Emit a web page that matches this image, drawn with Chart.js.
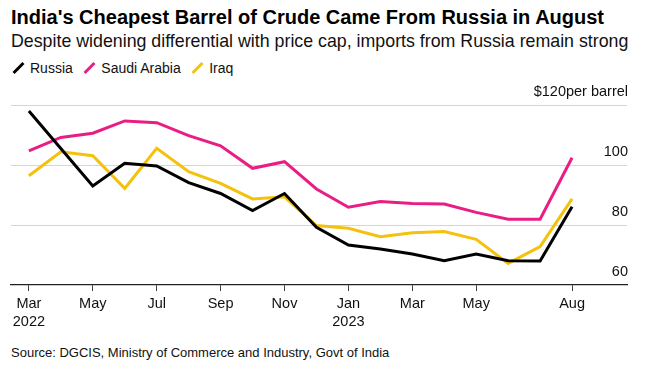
<html>

<head>
    <script src="https://cdn.jsdelivr.net/npm/chart.js"></script>
    <style>
        body {
            margin: 0;
            background: #fff;
        }

        #wrap {
            position: relative;
            width: 645px;
            height: 370px;
            overflow: hidden;
            font-family: 'Liberation Sans', Arial, sans-serif;
            color: #111;
        }

        .txt {
            position: absolute;
            left: 11px;
            white-space: nowrap;
        }

        #title {
            top: 7px;
            font-size: 20px;
            line-height: 20px;
            font-weight: bold;
            color: #000;
        }

        #subtitle {
            top: 33px;
            font-size: 17.8px;
            line-height: 17.8px;
        }

        #legend {
            position: absolute;
            left: 12px;
            top: 61px;
            height: 14px;
            display: flex;
            align-items: center;
            font-size: 14px;
            line-height: 14px;
        }

        .leg-item {
            display: flex;
            align-items: center;
            margin-right: 10.5px;
        }

        .leg-mark {
            position: relative;
            width: 12px;
            height: 12px;
            margin-right: 6px;
        }

        .leg-mark span {
            position: absolute;
            left: 4.5px;
            top: -1px;
            width: 3px;
            height: 14px;
            transform: rotate(45deg);
        }

        #source {
            top: 346px;
            font-size: 13px;
            line-height: 13px;
        }

        #chart-box {
            position: absolute;
            left: 0;
            top: 80px;
            width: 645px;
            height: 265px;
        }
    </style>
</head>

<body>
    <div id="wrap">
        <div id="title" class="txt">India's Cheapest Barrel of Crude Came From Russia in August</div>
        <div id="subtitle" class="txt">Despite widening differential with price cap, imports from Russia remain strong</div>
        <div id="legend"></div>
        <div id="chart-box"><canvas id="oil-chart"></canvas></div>
        <div id="source" class="txt">Source: DGCIS, Ministry of Commerce and Industry, Govt of India</div>
    </div>

    <script>
        // Mar 2022 .. Aug 2023, $ per barrel
        const months = ['2022-03', '2022-04', '2022-05', '2022-06', '2022-07', '2022-08', '2022-09', '2022-10', '2022-11',
            '2022-12', '2023-01', '2023-02', '2023-03', '2023-04', '2023-05', '2023-06', '2023-07', '2023-08'];
        const russia = [118, 105.5, 93, 100.6, 99.7, 94.1, 90.5, 84.8, 90.5, 79.2, 73.3, 72, 70.3, 68.1, 70.3, 68.1, 68, 86.1];
        const saudiArabia = [104.7, 109.2, 110.6, 114.7, 114.1, 109.8, 106.4, 98.9, 101.1, 92, 85.9, 87.8, 87.2, 87, 84.2, 81.9, 81.9, 102.4];
        const iraq = [96.4, 104.4, 103.1, 92.2, 105.6, 97.8, 93.9, 88.7, 89.4, 79.8, 78.9, 76.1, 77.4, 77.8, 75.2, 67.2, 72.8, 88.7];

        const seriesNames = ['Russia', 'Saudi Arabia', 'Iraq'];
        const seriesColors = ['#000000', '#e91e84', '#f4c20d'];

        const tickMonths = ['2022-03', '2022-05', '2022-07', '2022-09', '2022-11', '2023-01', '2023-03', '2023-05', '2023-08'];
        const tickLabels = [['Mar', '2022'], 'May', 'Jul', 'Sep', 'Nov', ['Jan', '2023'], 'Mar', 'May', 'Aug'];
        const yTicks = [60, 80, 100, 120];

        // legend
        const legend = document.getElementById('legend');
        seriesNames.forEach((name, i) => {
            const item = document.createElement('div');
            item.className = 'leg-item';
            item.innerHTML = '<div class="leg-mark"><span style="background:' + seriesColors[i] + '"></span></div><div>' + name + '</div>';
            legend.appendChild(item);
        });

        const allSeries = [russia, saudiArabia, iraq];
        const datasets = allSeries.map((values, i) => ({
            label: seriesNames[i],
            data: values.map((v, j) => ({ x: j, y: v })),
            borderColor: seriesColors[i],
            backgroundColor: seriesColors[i],
            borderWidth: 3,
            pointRadius: 0,
            tension: 0,
            fill: false
        }));

        Chart.defaults.font.family = "'Liberation Sans', Arial, sans-serif";
        Chart.defaults.color = '#111';

        const ctx = document.getElementById('oil-chart').getContext('2d');
        const chart = new Chart(ctx, {
            type: 'line',
            data: { datasets: datasets },
            options: {
                responsive: true,
                maintainAspectRatio: false,
                animation: false,
                layout: {
                    padding: { left: 11, right: 18, top: 25, bottom: 0 }
                },
                plugins: {
                    legend: { display: false },
                    tooltip: { enabled: false }
                },
                scales: {
                    x: {
                        type: 'linear',
                        min: -0.56,
                        max: 18.72,
                        afterBuildTicks: (scale) => {
                            scale.ticks = tickMonths.map(m => ({ value: months.indexOf(m) }));
                        },
                        afterFit: (scale) => { scale.height = 60; },
                        ticks: {
                            autoSkip: false,
                            maxRotation: 0,
                            padding: 4,
                            font: { size: 14.5, lineHeight: 1.25 },
                            color: '#111',
                            callback: function (value) {
                                return tickLabels[tickMonths.indexOf(months[value])];
                            }
                        },
                        grid: {
                            drawOnChartArea: false,
                            drawTicks: true,
                            tickLength: 6,
                            color: '#444'
                        },
                        border: { display: true, color: '#222', width: 1.2 }
                    },
                    y: {
                        position: 'right',
                        min: 60,
                        max: 120,
                        afterBuildTicks: (scale) => {
                            scale.ticks = yTicks.map(v => ({ value: v }));
                        },
                        afterFit: (scale) => { scale.width = 0; },
                        ticks: {
                            mirror: true,
                            padding: 1,
                            labelOffset: -13,
                            font: { size: 14.5 },
                            color: '#111',
                            callback: function (value) {
                                return value === 120 ? '$120per barrel' : value;
                            }
                        },
                        grid: {
                            drawTicks: false,
                            color: (c) => c.tick && c.tick.value === 60 ? 'rgba(0,0,0,0)' : '#d6d6d6',
                            lineWidth: 1
                        },
                        border: { display: false }
                    }
                }
            }
        });
    </script>
</body>

</html>
